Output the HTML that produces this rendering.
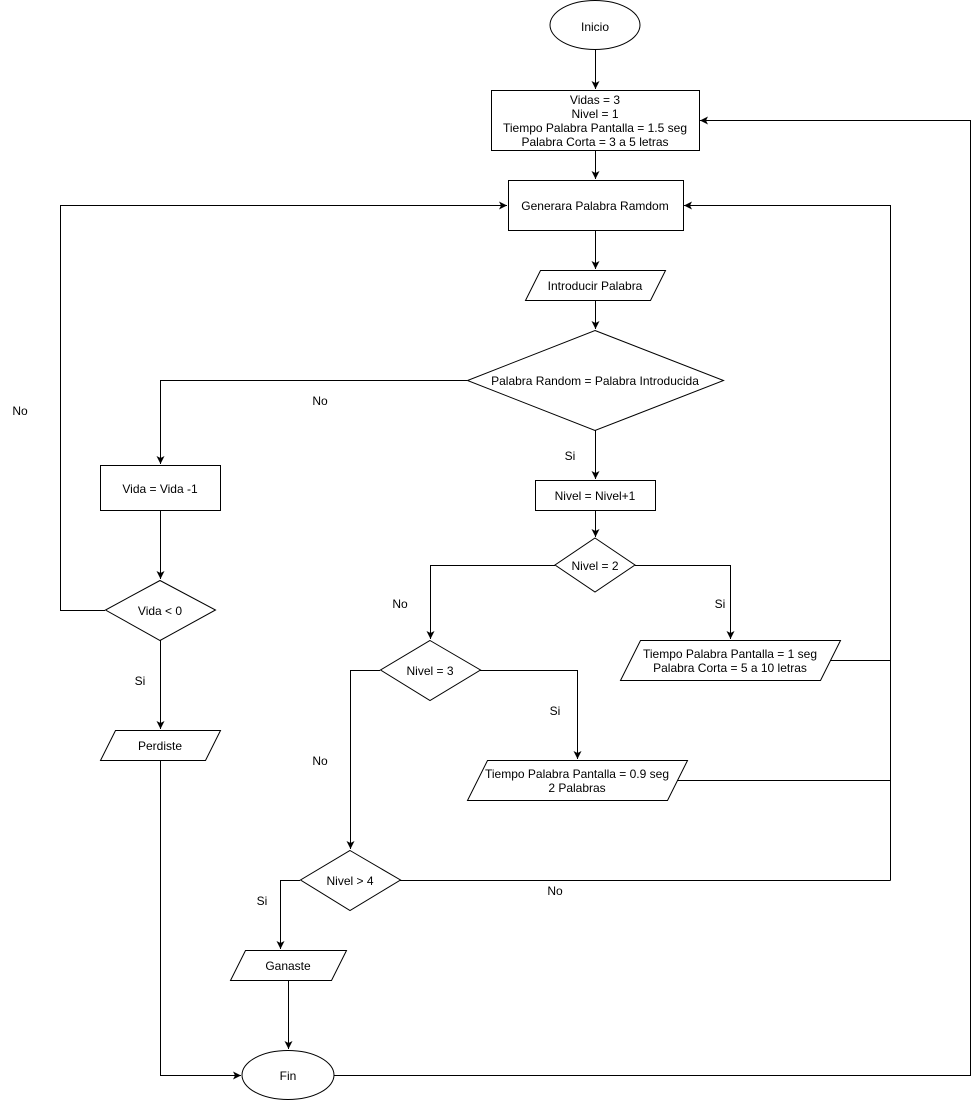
<!DOCTYPE html>
<html><head><meta charset="utf-8"><style>
html,body{margin:0;padding:0;background:#fff;}
svg{display:block;}
text{font-family:"Liberation Sans",Arial,sans-serif;font-size:12px;fill:#000;text-anchor:middle;dominant-baseline:central;}
</style></head><body>
<svg width="980" height="1101" viewBox="0 0 980 1101" xmlns="http://www.w3.org/2000/svg">
<defs>
<marker id="a" markerWidth="10" markerHeight="10" refX="8" refY="4" orient="auto" markerUnits="userSpaceOnUse">
<path d="M0,0 L8,4 L0,8 L2,4 z" fill="#000"/>
</marker>
</defs>
<g fill="#fff" stroke="#000" stroke-width="1">
<ellipse cx="595" cy="25" rx="45" ry="24.5"/>
<rect x="491.5" y="90.5" width="208" height="60"/>
<rect x="508.5" y="180.5" width="175" height="50"/>
<polygon points="540.5,270.5 665.5,270.5 650.5,300.5 525.5,300.5"/>
<polygon points="595,330.5 723.5,380.5 595,430.5 467.5,380.5"/>
<rect x="535.5" y="480.5" width="120" height="30"/>
<polygon points="595,538 635,565 595,592 555,565"/>
<polygon points="640.5,640.5 840.5,640.5 820.5,680.5 620.5,680.5"/>
<polygon points="430,640.5 480.5,670 430,700.5 380.5,670"/>
<polygon points="487.5,760.5 687.5,760.5 667.5,800.5 467.5,800.5"/>
<polygon points="350,850.5 400.5,880 350,910.5 300.5,880"/>
<polygon points="245.5,950.5 346.5,950.5 331.5,980.5 230.5,980.5"/>
<ellipse cx="288" cy="1075" rx="46" ry="24.5"/>
<rect x="100.5" y="465.5" width="120" height="45"/>
<polygon points="160,580.5 215.5,610 160,640.5 105.5,610"/>
<polygon points="115.5,730.5 220.5,730.5 205.5,760.5 100.5,760.5"/>
</g>
<g fill="none" stroke="#000" stroke-width="1">
<path d="M595.5,50 V89" marker-end="url(#a)"/>
<path d="M595.5,150 V179" marker-end="url(#a)"/>
<path d="M595.5,230 V269" marker-end="url(#a)"/>
<path d="M595.5,300 V329" marker-end="url(#a)"/>
<path d="M467,380.5 H160.5 V464" marker-end="url(#a)"/>
<path d="M595.5,430 V479" marker-end="url(#a)"/>
<path d="M595.5,510 V537" marker-end="url(#a)"/>
<path d="M555,565.5 H430.5 V639" marker-end="url(#a)"/>
<path d="M635,565.5 H730.5 V639" marker-end="url(#a)"/>
<path d="M830,660.5 H890.5 V205.5 H684" marker-end="url(#a)"/>
<path d="M890.5,880.5 V660"/>
<path d="M677,780.5 H890.5"/>
<path d="M480,670.5 H577.5 V759" marker-end="url(#a)"/>
<path d="M380,670.5 H350.5 V849" marker-end="url(#a)"/>
<path d="M400,880.5 H890.5"/>
<path d="M300,880.5 H280.5 V949" marker-end="url(#a)"/>
<path d="M288.5,980 V1049" marker-end="url(#a)"/>
<path d="M334,1075.5 H970.5 V120.5 H700" marker-end="url(#a)"/>
<path d="M160.5,510 V579" marker-end="url(#a)"/>
<path d="M105,610.5 H60.5 V205.5 H507" marker-end="url(#a)"/>
<path d="M160.5,640 V729" marker-end="url(#a)"/>
<path d="M160.5,760 V1075.5 H241" marker-end="url(#a)"/>
</g>
<g transform="translate(0,1)">
<text x="595" y="26">Inicio</text>
<text x="595" y="99">Vidas = 3</text>
<text x="595" y="113">Nivel = 1</text>
<text x="595" y="127">Tiempo Palabra Pantalla = 1.5 seg</text>
<text x="595" y="141">Palabra Corta = 3 a 5 letras</text>
<text x="595" y="205">Generara Palabra Ramdom</text>
<text x="595" y="285">Introducir Palabra</text>
<text x="595" y="380">Palabra Random = Palabra Introducida</text>
<text x="320" y="400">No</text>
<text x="570" y="455">Si</text>
<text x="595" y="495">Nivel = Nivel+1</text>
<text x="595" y="565">Nivel = 2</text>
<text x="400" y="603">No</text>
<text x="720" y="603">Si</text>
<text x="730" y="653">Tiempo Palabra Pantalla = 1 seg</text>
<text x="730" y="667">Palabra Corta = 5 a 10 letras</text>
<text x="430" y="670">Nivel = 3</text>
<text x="555" y="710">Si</text>
<text x="320" y="760">No</text>
<text x="577" y="773">Tiempo Palabra Pantalla = 0.9 seg</text>
<text x="577" y="787">2 Palabras</text>
<text x="350" y="880">Nivel &gt; 4</text>
<text x="555" y="890">No</text>
<text x="262" y="900">Si</text>
<text x="288" y="965">Ganaste</text>
<text x="288" y="1075">Fin</text>
<text x="160" y="488">Vida = Vida -1</text>
<text x="160" y="610">Vida &lt; 0</text>
<text x="20" y="410">No</text>
<text x="140" y="680">Si</text>
<text x="160" y="745">Perdiste</text>
</g>
</svg>
</body></html>
